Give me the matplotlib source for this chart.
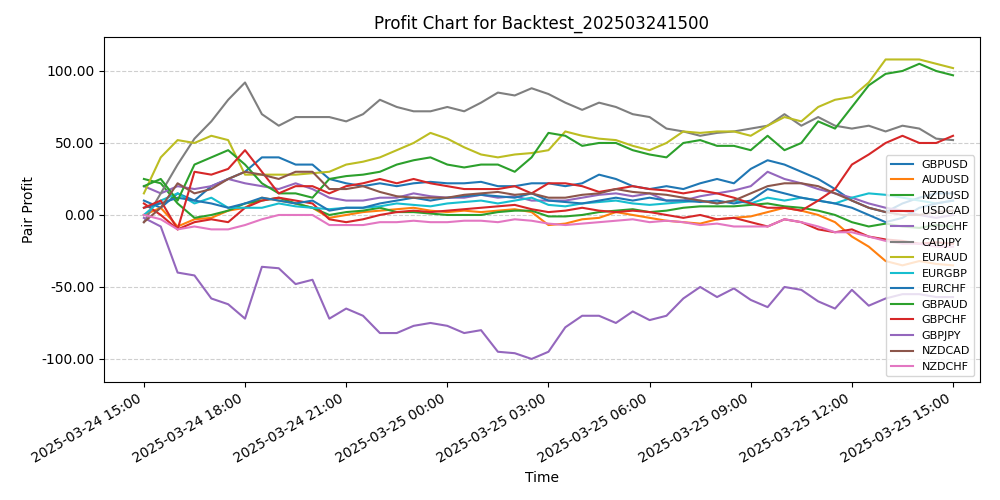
import matplotlib
matplotlib.use("Agg")
import matplotlib.pyplot as plt
import matplotlib.dates as mdates
from matplotlib.ticker import FormatStrFormatter
import pandas as pd

times = pd.date_range("2025-03-24 15:00", periods=49, freq="30min")

GBPUSD = [10,5,15,10,20,25,30,40,40,35,35,25,22,20,22,20,22,23,22,22,23,20,20,22,22,20,22,28,25,20,18,20,18,22,25,22,32,38,35,30,25,18,10,5,2,8,12,15,15]
AUDUSD = [0,5,-8,-3,-2,3,5,12,10,8,5,-2,0,2,3,4,5,3,2,3,2,3,4,2,-7,-6,-3,-2,2,0,-2,-4,-5,-6,-3,-2,-1,2,5,3,0,-5,-15,-22,-32,-35,-32,-34,-35]
NZDUSD = [25,22,8,-2,0,3,8,10,12,8,5,0,2,3,5,2,2,1,0,0,0,2,3,3,-1,-1,0,2,3,4,2,3,5,6,6,6,7,8,6,5,3,0,-5,-8,-6,-8,-9,-7,-8]
USDCAD = [8,0,-10,-5,-3,-5,5,10,12,10,8,-3,-5,-3,0,2,3,2,3,4,5,6,7,4,2,3,5,3,2,3,2,0,-2,0,-3,-2,-5,-8,-3,-5,-10,-12,-10,-15,-17,-18,-20,-19,-20]
USDCHF = [20,15,20,18,20,25,22,20,18,22,18,12,10,10,12,12,15,13,12,12,14,12,13,10,10,10,12,14,15,13,15,10,10,13,15,17,20,30,25,22,18,15,12,8,5,3,0,-2,0]
CADJPY = [-5,15,35,53,65,80,92,70,62,68,68,68,65,70,80,75,72,72,75,72,78,85,83,88,84,78,73,78,75,70,68,60,58,55,57,58,60,62,70,62,68,62,60,62,58,62,60,53,52]
EURAUD = [15,40,52,50,55,52,28,28,28,28,29,30,35,37,40,45,50,57,53,47,42,40,42,43,45,58,55,53,52,48,45,50,58,57,58,58,55,62,68,65,75,80,82,92,108,108,108,105,102]
EURGBP = [0,10,15,8,12,5,5,5,8,6,5,4,5,5,6,8,7,6,8,9,10,8,10,12,7,6,8,9,10,8,7,8,9,10,8,10,8,12,10,12,10,8,12,15,14,12,10,8,10]
EURCHF = [5,8,12,10,8,5,8,12,10,8,10,3,5,5,8,10,12,10,12,13,14,13,12,15,10,9,8,10,12,10,12,10,10,9,10,8,10,18,15,12,10,8,5,0,-5,-2,5,8,10]
GBPAUD = [20,25,10,35,40,45,35,22,15,15,12,25,27,28,30,35,38,40,35,33,35,35,30,40,57,55,48,50,50,45,42,40,50,52,48,48,45,55,45,50,65,60,75,90,98,100,105,100,97]
GBPCHF = [5,10,-10,30,28,32,45,30,15,20,20,15,20,22,25,22,25,22,20,18,18,18,20,15,22,22,20,16,18,20,18,17,15,17,15,12,8,5,5,3,10,18,35,42,50,55,50,50,55]
GBPJPY = [-2,-8,-40,-42,-58,-62,-72,-36,-37,-48,-45,-72,-65,-70,-82,-82,-77,-75,-77,-82,-80,-95,-96,-100,-95,-78,-70,-70,-75,-67,-73,-70,-58,-50,-57,-51,-59,-64,-50,-52,-60,-65,-52,-63,-58,-55,-55,-57,-57]
NZDCAD = [-5,5,22,15,18,25,30,28,25,30,30,18,18,20,16,13,12,12,12,14,15,16,14,15,12,12,14,15,18,16,15,14,12,10,8,10,15,20,22,22,20,15,10,5,2,0,0,2,3]
NZDCHF = [0,-3,-10,-8,-10,-10,-7,-3,0,0,0,-7,-7,-7,-5,-5,-4,-5,-5,-4,-4,-5,-3,-4,-6,-7,-6,-5,-4,-3,-5,-4,-5,-7,-6,-8,-8,-8,-3,-5,-8,-12,-12,-15,-18,-20,-20,-22,-22]

series = [("GBPUSD", GBPUSD, "#1f77b4"), ("AUDUSD", AUDUSD, "#ff7f0e"), ("NZDUSD", NZDUSD, "#2ca02c"),
          ("USDCAD", USDCAD, "#d62728"), ("USDCHF", USDCHF, "#9467bd"), ("CADJPY", CADJPY, "#7f7f7f"),
          ("EURAUD", EURAUD, "#bcbd22"), ("EURGBP", EURGBP, "#17becf"), ("EURCHF", EURCHF, "#1f77b4"),
          ("GBPAUD", GBPAUD, "#2ca02c"), ("GBPCHF", GBPCHF, "#d62728"), ("GBPJPY", GBPJPY, "#9467bd"),
          ("NZDCAD", NZDCAD, "#8c564b"), ("NZDCHF", NZDCHF, "#e377c2")]

fig, ax = plt.subplots(figsize=(10, 5), dpi=100)
for name, vals, c in series:
    ax.plot(times, vals, label=name, color=c, linewidth=1.5)
ax.set_title("Profit Chart for Backtest_202503241500")
ax.set_xlabel("Time")
ax.set_ylabel("Pair Profit")
ax.grid(axis="y", linestyle="--", alpha=0.6)
ax.yaxis.set_major_formatter(FormatStrFormatter("%.2f"))
ax.xaxis.set_major_locator(mdates.HourLocator(byhour=[0, 3, 6, 9, 12, 15, 18, 21]))
ax.xaxis.set_major_formatter(mdates.DateFormatter("%Y-%m-%d %H:%M"))
ax.set_xlim(pd.Timestamp("2025-03-24 13:49"), pd.Timestamp("2025-03-25 15:48"))
ax.set_ylim(-116, 123.6)
ax.legend(loc="lower right", fontsize=8)
fig.autofmt_xdate()
fig.subplots_adjust(left=0.104, right=0.98, top=0.926, bottom=0.236)
fig.savefig("out.png")
